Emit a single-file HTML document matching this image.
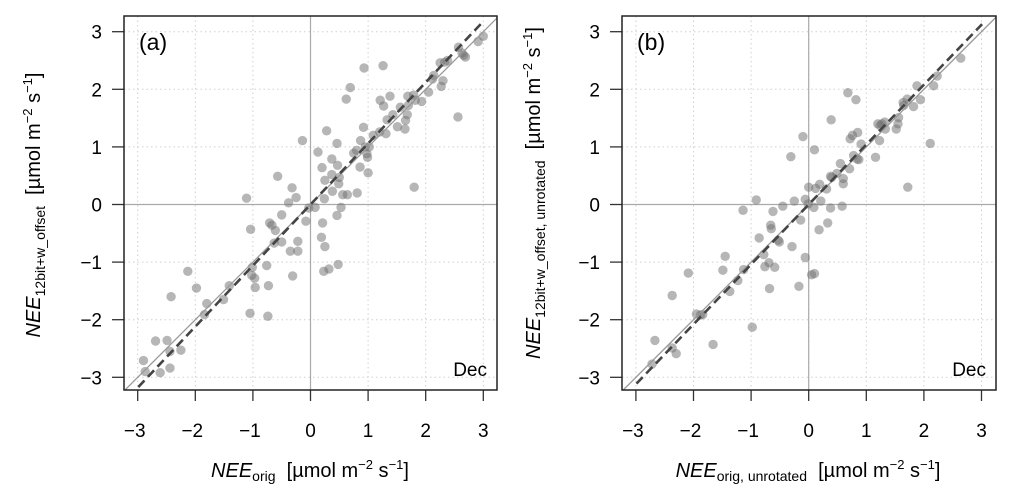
<!DOCTYPE html>
<html><head><meta charset="utf-8"><style>
html,body{margin:0;padding:0;background:#fff;}
svg{display:block;font-family:"Liberation Sans",Arial,sans-serif;}
</style></head><body>
<svg id="chart" width="1015" height="504" viewBox="0 0 1015 504" xmlns="http://www.w3.org/2000/svg">
<text x="40" y="205" transform="rotate(-90 40 205)" text-anchor="middle" font-size="20"><tspan font-style="italic">NEE</tspan><tspan font-size="14" dy="5">12bit+w_offset</tspan><tspan dy="-5">&#160;&#160;[µmol m</tspan><tspan font-size="13" dy="-8">−2</tspan><tspan dy="8"> s</tspan><tspan font-size="13" dy="-8">−1</tspan><tspan dy="8">]</tspan></text>
<text x="540" y="193" transform="rotate(-90 540 193)" text-anchor="middle" font-size="20"><tspan font-style="italic">NEE</tspan><tspan font-size="14" dy="5">12bit+w_offset, unrotated</tspan><tspan dy="-5">&#160;&#160;[µmol m</tspan><tspan font-size="13" dy="-8">−2</tspan><tspan dy="8"> s</tspan><tspan font-size="13" dy="-8">−1</tspan><tspan dy="8">]</tspan></text>
<text x="310" y="477" text-anchor="middle" font-size="20"><tspan font-style="italic">NEE</tspan><tspan font-size="14" dy="4">orig</tspan><tspan dy="-4">&#160;&#160;[µmol m</tspan><tspan font-size="13" dy="-8">−2</tspan><tspan dy="8"> s</tspan><tspan font-size="13" dy="-8">−1</tspan><tspan dy="8">]</tspan></text>
<text x="808" y="477" text-anchor="middle" font-size="20"><tspan font-style="italic">NEE</tspan><tspan font-size="14" dy="4">orig, unrotated</tspan><tspan dy="-4">&#160;&#160;[µmol m</tspan><tspan font-size="13" dy="-8">−2</tspan><tspan dy="8"> s</tspan><tspan font-size="13" dy="-8">−1</tspan><tspan dy="8">]</tspan></text>
</svg>
<script>
const ticks=[-3,-2,-1,0,1,2,3];
const tickLabels=["−3","−2","−1","0","1","2","3"];
const aX=[-2.90,-2.87,-2.61,-2.44,-2.69,-2.49,-2.44,-2.25,-2.42,-2.13,-1.98,-1.84,-1.80,-1.51,-1.41,-1.05,-0.74,-1.04,-1.11,-1.01,-1.02,-0.96,-0.97,-0.76,-0.73,-0.71,-0.67,-0.61,-0.63,-0.50,-0.50,-0.57,-0.38,-0.32,-0.25,-0.31,-0.35,-0.22,-0.22,-0.14,-0.08,-0.03,0.08,0.13,0.21,0.19,0.25,0.23,0.32,0.48,0.46,0.53,0.28,0.46,0.20,0.25,0.37,0.47,0.37,0.49,0.50,0.38,0.24,0.56,0.64,0.81,0.62,0.69,0.93,1.26,0.75,0.80,0.86,0.87,0.92,0.95,0.98,0.99,1.00,1.02,1.09,1.20,1.21,1.27,1.31,1.38,1.33,1.43,1.51,1.56,1.64,1.65,1.68,1.69,1.79,1.80,1.82,1.93,2.05,2.12,2.14,2.30,2.27,2.25,2.33,2.38,2.56,2.57,2.63,2.66,2.69,2.91,3.00,1.70];
const aY=[-2.71,-2.90,-2.92,-2.84,-2.37,-2.36,-2.55,-2.53,-1.60,-1.16,-1.45,-1.91,-1.72,-1.65,-1.41,-1.89,-1.94,-0.43,0.11,-1.09,-1.23,-1.44,-1.28,-1.06,-1.41,-0.32,-0.36,-0.45,-0.67,-0.65,-0.18,0.49,0.03,0.29,0.12,-1.24,-0.81,-0.81,-0.64,1.11,-0.29,-0.06,-0.05,0.91,-0.32,-0.57,-0.73,-1.16,-1.12,-1.04,-0.19,-0.05,1.28,1.06,0.64,0.42,0.79,0.68,0.52,0.36,0.47,0.23,0.10,0.17,0.17,0.20,1.83,2.03,2.37,2.41,0.89,0.94,0.65,1.11,1.34,1.00,0.88,0.82,0.55,1.00,1.20,1.26,1.81,1.71,1.23,1.88,1.47,1.56,1.35,1.69,1.31,1.46,1.56,1.88,1.90,0.30,1.81,1.79,1.95,2.18,2.24,2.15,2.05,2.46,2.47,2.50,1.52,2.73,2.63,2.59,2.56,2.83,2.92,1.72];
const bX=[-2.72,-2.67,-2.37,-2.30,-2.37,-2.09,-1.95,-1.88,-1.84,-1.66,-1.49,-1.45,-1.37,-1.23,-1.13,-1.14,-0.98,-0.91,-0.86,-0.78,-0.76,-0.69,-0.68,-0.66,-0.65,-0.62,-0.59,-0.53,-0.51,-0.45,-0.29,-0.31,-0.25,-0.17,-0.14,-0.10,-0.06,-0.06,-0.01,0.00,0.05,0.10,0.10,0.09,0.12,0.19,0.18,0.21,0.33,0.31,0.38,0.39,0.38,0.40,0.49,0.55,0.58,0.60,0.60,0.68,0.71,0.72,0.76,0.78,0.82,0.84,0.85,0.87,0.91,1.16,1.20,1.23,1.24,1.27,1.33,1.32,1.52,1.55,1.56,1.65,1.64,1.71,1.72,1.82,1.88,1.94,2.11,2.17,2.23,2.64];
const bY=[-2.77,-2.36,-2.49,-2.59,-1.58,-1.19,-1.90,-1.92,-1.91,-2.43,-1.14,-0.90,-1.51,-1.32,-1.13,-0.10,-2.13,0.08,-0.58,-0.87,-1.08,-1.01,-1.46,-0.36,-0.42,-0.12,-1.09,-0.62,-0.65,-0.03,-0.73,0.83,0.06,-1.42,-0.27,1.18,-0.92,0.09,0.01,0.30,-1.22,0.95,-1.20,-0.05,0.28,0.35,-0.44,0.06,-0.32,0.27,-0.06,1.47,0.49,0.47,0.54,0.71,-0.03,0.36,0.45,1.94,0.62,1.14,1.20,0.85,1.82,0.79,1.25,0.78,1.05,0.82,1.40,1.11,1.37,1.40,1.31,1.43,1.31,1.40,1.51,1.72,1.77,1.83,0.30,1.70,2.06,1.82,1.06,2.06,2.23,2.54];
const fitA=[1.06,0.0];
const fitB=[1.04,0.0];
const NS="http://www.w3.org/2000/svg";
const svg=document.getElementById('chart');
function mk(t,a,p){const e=document.createElementNS(NS,t);for(const k in a)e.setAttribute(k,a[k]);(p||svg).appendChild(e);return e;}
function panel(id,L,R,T,B,x0,y0,xs,ys,X,Y,fit,lab){
  const sx=v=>x0+v*xs, sy=v=>y0-v*ys;
  const g=mk('g',{});
  
  
  const cid='clip'+id;
  const cp=mk('clipPath',{id:cid},g);mk('rect',{x:L,y:T,width:R-L,height:B-T},cp);
  ticks.forEach((t,i)=>{
    const gv=mk('line',{x1:sx(t),x2:sx(t),y1:T,y2:B,stroke:'#d0d0d0','stroke-dasharray':'1.5 3','stroke-width':1},g);
    
    
    const gh=mk('line',{x1:L,x2:R,y1:sy(t),y2:sy(t),stroke:'#d0d0d0','stroke-dasharray':'1.5 3','stroke-width':1},g);
    
    
    const tx=mk('line',{x1:sx(t),x2:sx(t),y1:B,y2:B+11,stroke:'#333','stroke-width':1.3},g);
    
    
    const ty=mk('line',{x1:L-12,x2:L,y1:sy(t),y2:sy(t),stroke:'#333','stroke-width':1.3},g);
    
    
    const lx=mk('text',{x:sx(t)-(t<0?3:0),y:437,'text-anchor':'middle','font-size':19},g);lx.textContent=tickLabels[i];
    
    
    const ly=mk('text',{x:L-22,y:sy(t)+7,'text-anchor':'end','font-size':19},g);ly.textContent=tickLabels[i];
    
    
  });
  const z1=mk('line',{x1:sx(0),x2:sx(0),y1:T,y2:B,stroke:'#aaa','stroke-width':1.2},g);
  
  
  const z2=mk('line',{x1:L,x2:R,y1:sy(0),y2:sy(0),stroke:'#aaa','stroke-width':1.2},g);
  
  
  const pg=mk('g',{'clip-path':'url(#'+cid+')'},g);
  for(let i=0;i<X.length;i++){
    const c=mk('circle',{cx:sx(X[i]),cy:sy(Y[i]),r:4.7,fill:'rgba(110,110,110,0.5)'},pg);
    
    
  }
  const o=mk('line',{x1:sx(-3.5),y1:sy(-3.5),x2:sx(3.5),y2:sy(3.5),stroke:'#999','stroke-width':1.3},pg);
  
  
  const fx1=-2.99,fx2=3.01;
  const f=mk('line',{x1:sx(fx1),y1:sy(fit[0]*fx1+fit[1]),x2:sx(fx2),y2:sy(fit[0]*fx2+fit[1]),stroke:'#444','stroke-width':2.6,'stroke-dasharray':'9 5'},pg);
  
  
  const fr=mk('rect',{x:L,y:T,width:R-L,height:B-T,fill:'none',stroke:'#222','stroke-width':1.5},g);
  
  
  const pl=mk('text',{x:L+15,y:T+34,'font-size':23},g);pl.textContent=lab;
  
  
  const dc=mk('text',{x:R-10,y:B-14,'text-anchor':'end','font-size':19},g);dc.textContent='Dec';
  
  
}
panel('a',124,497,16,390,310.5,204.5,57.6,57.6,aX,aY,fitA,'(a)');
panel('b',622,996,16,390,808.7,204.5,57.6,57.6,bX,bY,fitB,'(b)');
</script>
</body></html>
